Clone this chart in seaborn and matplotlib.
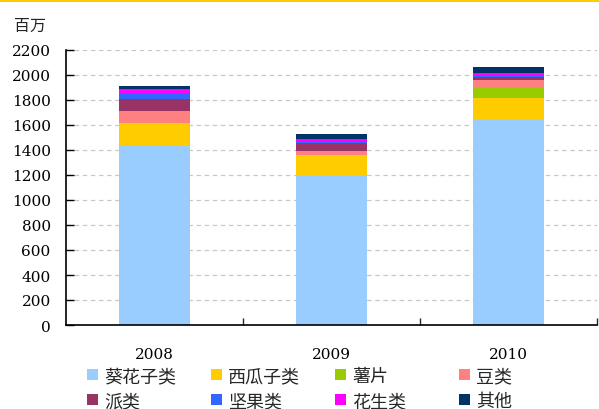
import matplotlib.pyplot as plt
import numpy as np
import pandas as pd
import seaborn as sns
from matplotlib.patches import Patch, Rectangle

years = ['2008', '2009', '2010']
series_names = ['葵花子类', '西瓜子类', '薯片', '豆类', '派类', '坚果类', '花生类', '其他']
sunflower = [1432, 1200, 1640]
watermelon = [186, 160, 176]
chips = [0, 0, 80]
beans = [94, 32, 64]
pies = [99, 64, 27]
nuts = [48, 16, 16]
peanuts = [29, 19, 16]
others = [27, 40, 48]
colors = ['#99CCFF', '#FFCC00', '#99CC00', '#FF8080', '#993366', '#3366FF', '#FF00FF', '#003366']

sns.set_theme(style="white")
plt.rcParams['font.family'] = ['DejaVu Serif', 'Noto Sans CJK SC']

df = pd.DataFrame(
    [sunflower, watermelon, chips, beans, pies, nuts, peanuts, others],
    index=series_names, columns=years)
cum = df.cumsum()

fig = plt.figure(figsize=(5.99, 4.10), dpi=100)
ax = fig.add_axes([66 / 599, 1 - 326 / 410, 531 / 599, 275 / 410])

# stacked bars: draw cumulative totals from top layer down
for name, c in reversed(list(zip(series_names, colors))):
    sns.barplot(x=years, y=cum.loc[name].values, color=c, width=0.4,
                saturation=1, linewidth=0, edgecolor='none', ax=ax, zorder=2)

ax.set_ylim(0, 2200)
ax.set_xlim(-0.5, 2.5)
ax.set_yticks(np.arange(0, 2201, 200))
ax.yaxis.grid(True, linestyle=(0, (3.6, 2.9)), color='#C8C8C8', lw=0.9, zorder=0)
ax.set_axisbelow(True)
for s in ['top', 'right']:
    ax.spines[s].set_visible(False)
for s in ['left', 'bottom']:
    ax.spines[s].set_color('black')
    ax.spines[s].set_linewidth(1.2)

ax.tick_params(axis='y', direction='in', length=6, width=1, left=True,
               pad=11, labelsize=11, colors='black')
ax.set_xticks([0.5, 1.5, 2.5], minor=True)
ax.tick_params(axis='x', which='minor', direction='in', length=5, width=1, bottom=True)
ax.tick_params(axis='x', which='major', length=0, pad=16, labelsize=11, colors='black')
ax.set_xlabel('')
ax.set_ylabel('')

fig.text(30 / 599, 1 - 26 / 410, '百万', ha='center', va='center', fontsize=11.5,
         family=['Noto Sans CJK SC'], color='#222222')

# yellow band at the top
fig.add_artist(Rectangle((0, 1 - 3 / 410), 1, 3 / 410, transform=fig.transFigure,
                         color='#FFCC00', lw=0))

handles = [Patch(facecolor=c, edgecolor='none') for c in colors]
col_x = [87, 211, 335, 459]
for i, x in enumerate(col_x):
    fig.legend(handles[i::4], series_names[i::4], loc='upper left',
               bbox_to_anchor=(x / 599, 1 - 368 / 410), ncol=1, frameon=False,
               borderpad=0, borderaxespad=0, handlelength=0.6, handleheight=0.6,
               handletextpad=0.35, labelspacing=0.38,
               prop={'family': ['Noto Sans CJK SC'], 'size': 13})

fig.savefig('out.png', dpi=100)
